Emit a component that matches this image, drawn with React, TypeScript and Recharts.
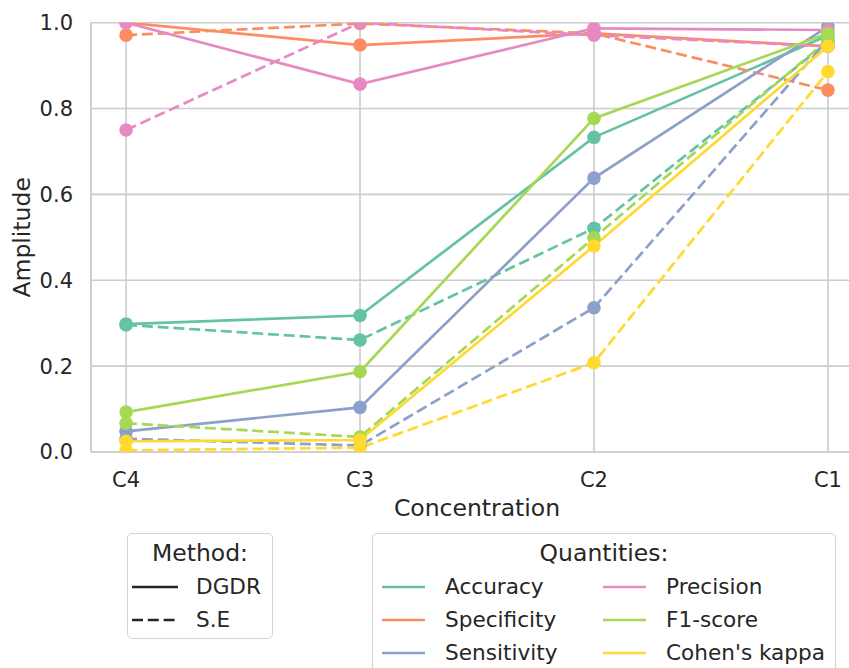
import React from 'react';
import { LineChart, Line, XAxis, YAxis, CartesianGrid, Legend } from 'recharts';

const FONT = '"DejaVu Sans", sans-serif';
const TEXT = '#262626';
const GRID = '#cccccc';

const categories = ['C4', 'C3', 'C2', 'C1'];
const yTicks = [0, 0.2, 0.4, 0.6, 0.8, 1.0];
const methods = ['DGDR', 'S.E'];
const quantities = ['Accuracy', 'Specificity', 'Sensitivity', 'Precision', 'F1-score', "Cohen's kappa"];
const COLORS = ['#66c2a5', '#fc8d62', '#8da0cb', '#e78ac3', '#a6d854', '#ffd92f'];

// values per concentration C4, C3, C2, C1
const accuracyDGDR = [0.298, 0.318, 0.733, 0.97];
const accuracySE = [0.296, 0.261, 0.521, 0.955];
const specificityDGDR = [1.0, 0.948, 0.975, 0.945];
const specificitySE = [0.971, 0.998, 0.975, 0.843];
const sensitivityDGDR = [0.048, 0.104, 0.638, 0.991];
const sensitivitySE = [0.031, 0.015, 0.336, 0.96];
const precisionDGDR = [1.0, 0.857, 0.987, 0.983];
const precisionSE = [0.75, 1.0, 0.971, 0.945];
const f1DGDR = [0.093, 0.187, 0.777, 0.975];
const f1SE = [0.067, 0.035, 0.499, 0.96];
const kappaDGDR = [0.025, 0.028, 0.48, 0.945];
const kappaSE = [0.004, 0.01, 0.208, 0.886];

const seriesDGDR = [accuracyDGDR, specificityDGDR, sensitivityDGDR, precisionDGDR, f1DGDR, kappaDGDR];
const seriesSE = [accuracySE, specificitySE, sensitivitySE, precisionSE, f1SE, kappaSE];

const data = categories.map((c, i) => {
  const row: any = { x: i, name: c };
  quantities.forEach((q, qi) => {
    row[`${q}|DGDR`] = seriesDGDR[qi][i];
    row[`${q}|S.E`] = seriesSE[qi][i];
  });
  return row;
});

const DASH = '11 4.8';

const txt = (left: number, cy: number, size: number, extra: any = {}) => ({
  position: 'absolute' as const,
  left,
  top: cy,
  transform: 'translateY(-50%)',
  lineHeight: 1,
  fontSize: size,
  whiteSpace: 'nowrap' as const,
  ...extra,
});

const LegendLine = ({ left, cy, color, dashed, width }: any) => (
  <svg style={{ position: 'absolute', left, top: cy - 3 }} width={width} height={6}>
    <line x1={0} y1={3} x2={width} y2={3} stroke={color} strokeWidth={2.7} strokeDasharray={dashed ? DASH : undefined} />
  </svg>
);

const renderLegends = () => (
  <div style={{ position: 'relative', width: 849, height: 668, fontFamily: FONT, color: TEXT }}>
    <div
      style={{
        position: 'absolute', left: 127, top: 533, width: 146, height: 106,
        border: '1.2px solid #d4d4d4', borderRadius: 5, boxSizing: 'border-box', background: 'rgba(255,255,255,0.8)',
      }}
    >
      <div style={txt(0, 20, 23.5, { width: 144, textAlign: 'center' })}>Method:</div>
      {methods.map((m, i) => (
        <React.Fragment key={m}>
          <LegendLine left={4} cy={53 + i * 33} color={TEXT} dashed={i === 1} width={46} />
          <div style={txt(68, 53 + i * 33, 21.6)}>{m}</div>
        </React.Fragment>
      ))}
    </div>
    <div
      style={{
        position: 'absolute', left: 372, top: 533, width: 464, height: 150,
        border: '1.2px solid #d4d4d4', borderRadius: 5, boxSizing: 'border-box', background: 'rgba(255,255,255,0.8)',
      }}
    >
      <div style={txt(0, 20, 23.5, { width: 462, textAlign: 'center' })}>Quantities:</div>
      {quantities.map((q, qi) => {
        const col = Math.floor(qi / 3);
        const row = qi % 3;
        const x0 = 9 + col * 221;
        const cy = 53 + row * 33;
        return (
          <React.Fragment key={q}>
            <LegendLine left={x0} cy={cy} color={COLORS[qi]} width={43} />
            <div style={txt(x0 + 63, cy, 21.6)}>{q}</div>
          </React.Fragment>
        );
      })}
    </div>
  </div>
);

export default function App() {
  return (
    <div style={{ position: 'absolute', left: 0, top: 0, width: 849, height: 668, overflow: 'hidden', background: '#fff' }}>
      <LineChart
        width={863}
        height={668}
        data={data}
        margin={{ top: 22.7, right: 0, bottom: 146, left: 0 }}
        style={{ fontFamily: FONT }}
      >
        <CartesianGrid stroke={GRID} strokeWidth={1.6} />
        <XAxis
          type="number"
          dataKey="x"
          domain={[-0.15, 3.15]}
          allowDataOverflow
          ticks={[0, 1, 2, 3]}
          tickFormatter={(v: number) => categories[v]}
          tickLine={false}
          tickSize={0}
          tickMargin={20}
          height={70}
          axisLine={{ stroke: GRID, strokeWidth: 1.6 }}
          tick={{ fontSize: 21, fill: TEXT }}
          label={{ value: 'Concentration', position: 'insideBottom', offset: 6, fontSize: 23.5, fill: TEXT }}
        />
        <YAxis
          type="number"
          domain={[0, 1]}
          ticks={yTicks}
          allowDataOverflow
          tickFormatter={(v: number) => v.toFixed(1)}
          tickLine={false}
          tickSize={0}
          tickMargin={18}
          width={91}
          axisLine={{ stroke: GRID, strokeWidth: 1.6 }}
          tick={{ fontSize: 21, fill: TEXT }}
          label={{
            value: 'Amplitude', angle: -90, position: 'insideLeft', offset: 22,
            fontSize: 23.5, fill: TEXT, style: { textAnchor: 'middle' },
          }}
        />
        {quantities.map((q, qi) =>
          methods.map((m) => (
            <Line
              key={`${q}|${m}`}
              type="linear"
              dataKey={`${q}|${m}`}
              stroke={COLORS[qi]}
              strokeWidth={2.7}
              strokeDasharray={m === 'S.E' ? DASH : undefined}
              dot={{ r: 6.8, fill: COLORS[qi], stroke: 'none', strokeDasharray: '', clipDot: true }}
              activeDot={false}
              isAnimationActive={false}
            />
          ))
        )}
        <Legend
          layout="horizontal"
          verticalAlign="middle"
          align="center"
          content={renderLegends}
          wrapperStyle={{ left: 0, top: 0, width: 849, height: 668, pointerEvents: 'none' }}
        />
      </LineChart>
    </div>
  );
}
